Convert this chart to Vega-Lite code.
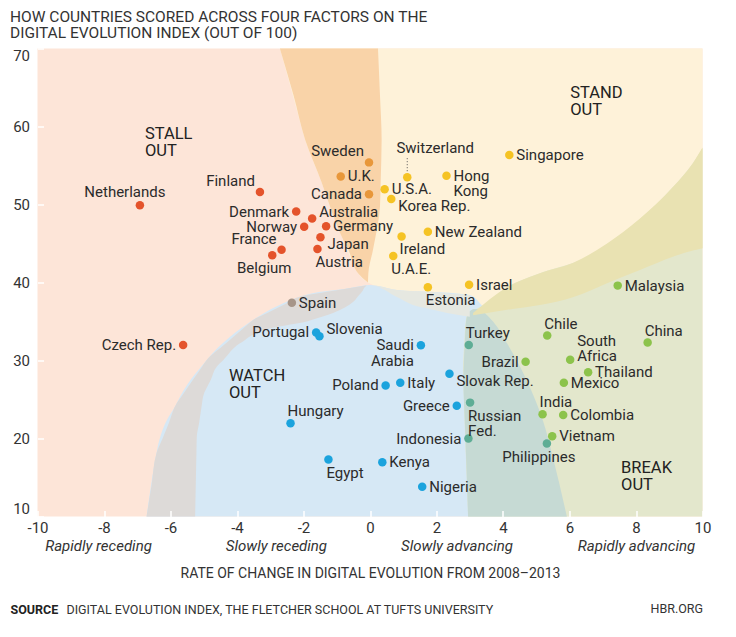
{
  "$schema": "https://vega.github.io/schema/vega-lite/v6.json",
  "width": 665,
  "height": 468,
  "autosize": {"type": "none"},
  "padding": {"left": 37.5, "top": 48.5, "right": 33.5, "bottom": 120.5},
  "background": "white",
  "title": {
    "text": ["HOW COUNTRIES SCORED ACROSS FOUR FACTORS ON THE", "DIGITAL EVOLUTION INDEX (OUT OF 100)"],
    "anchor": "start",
    "frame": "bounds",
    "font": "Roboto",
    "fontSize": 15.5,
    "fontWeight": "normal",
    "color": "#333333",
    "lineHeight": 16,
    "offset": 6
  },
  "config": {
    "font": "Roboto",
    "view": {"stroke": null, "fill": "#FDE5D8"},
    "axis": {"grid": false, "domain": false, "labelFont": "Roboto", "titleFont": "Roboto"}
  },
  "resolve": {"scale": {"x": "shared", "y": "shared"}, "axis": {"x": "independent"}},
  "datasets": {
    "regions": [
      {"r": "cream", "a": -2.71, "lo": 70, "hi": 70},
      {"r": "cream", "a": -2.3, "lo": 63.7, "hi": 70},
      {"r": "cream", "a": -1.95, "lo": 58.3, "hi": 70},
      {"r": "cream", "a": -1.45, "lo": 52.8, "hi": 70},
      {"r": "cream", "a": -1.2, "lo": 49.7, "hi": 70},
      {"r": "cream", "a": -0.81, "lo": 45.5, "hi": 70},
      {"r": "cream", "a": -0.36, "lo": 41.2, "hi": 70},
      {"r": "cream", "a": -0.06, "lo": 40.0, "hi": 70},
      {"r": "cream", "a": 0.09, "lo": 39.67, "hi": 70},
      {"r": "cream", "a": 1.29, "lo": 37.1, "hi": 70},
      {"r": "cream", "a": 2.32, "lo": 36.1, "hi": 70},
      {"r": "cream", "a": 3.0, "lo": 35.6, "hi": 70},
      {"r": "cream", "a": 4.12, "lo": 36.5, "hi": 70},
      {"r": "cream", "a": 5.11, "lo": 37.1, "hi": 70},
      {"r": "cream", "a": 6.1, "lo": 38.1, "hi": 70},
      {"r": "cream", "a": 7.13, "lo": 39.9, "hi": 70},
      {"r": "cream", "a": 8.12, "lo": 41.6, "hi": 70},
      {"r": "cream", "a": 9.11, "lo": 43.3, "hi": 70},
      {"r": "cream", "a": 10, "lo": 44.4, "hi": 70},

      {"r": "blue", "a": -6.72, "lo": 10, "hi": 10},
      {"r": "blue", "a": -6.42, "lo": 10, "hi": 18.14},
      {"r": "blue", "a": -5.81, "lo": 10, "hi": 24.55},
      {"r": "blue", "a": -4.91, "lo": 10, "hi": 30.06},
      {"r": "blue", "a": -3.52, "lo": 10, "hi": 35.19},
      {"r": "blue", "a": -2.11, "lo": 10, "hi": 38.18},
      {"r": "blue", "a": -0.6, "lo": 10, "hi": 39.29},
      {"r": "blue", "a": 0, "lo": 10, "hi": 39.68},
      {"r": "blue", "a": 0.81, "lo": 10, "hi": 39.04},
      {"r": "blue", "a": 1.8, "lo": 10, "hi": 38.8},
      {"r": "blue", "a": 3.0, "lo": 10, "hi": 38.4},
      {"r": "blue", "a": 3.4, "lo": 10, "hi": 36.9},
      {"r": "blue", "a": 4.12, "lo": 10, "hi": 32.2},
      {"r": "blue", "a": 4.72, "lo": 10, "hi": 27.4},
      {"r": "blue", "a": 5.2, "lo": 10, "hi": 22.3},
      {"r": "blue", "a": 5.5, "lo": 10, "hi": 17.6},
      {"r": "blue", "a": 5.92, "lo": 10, "hi": 10},

      {"r": "green", "a": 10, "lo": 2.95, "hi": 10},
      {"r": "green", "a": 15, "lo": 2.91, "hi": 10},
      {"r": "green", "a": 20.2, "lo": 2.86, "hi": 10},
      {"r": "green", "a": 24.5, "lo": 2.83, "hi": 10},
      {"r": "green", "a": 28.8, "lo": 2.8, "hi": 10},
      {"r": "green", "a": 32.5, "lo": 2.84, "hi": 10},
      {"r": "green", "a": 35, "lo": 2.88, "hi": 10},
      {"r": "green", "a": 36.1, "lo": 2.95, "hi": 10},
      {"r": "green", "a": 37, "lo": 3.38, "hi": 10},
      {"r": "green", "a": 38, "lo": 3.69, "hi": 10},
      {"r": "green", "a": 39.4, "lo": 4.12, "hi": 10},
      {"r": "green", "a": 41.2, "lo": 5.11, "hi": 10},
      {"r": "green", "a": 42.5, "lo": 6.1, "hi": 10},
      {"r": "green", "a": 45.45, "lo": 7.31, "hi": 10},
      {"r": "green", "a": 48.9, "lo": 8.33, "hi": 10},
      {"r": "green", "a": 52.24, "lo": 9.11, "hi": 10},
      {"r": "green", "a": 55.3, "lo": 9.71, "hi": 10},
      {"r": "green", "a": 57.2, "lo": 10, "hi": 10},

      {"r": "orange", "a": 40.0, "lo": -0.06, "hi": -0.06},
      {"r": "orange", "a": 41.2, "lo": -0.36, "hi": -0.05},
      {"r": "orange", "a": 44.2, "lo": -0.65, "hi": 0.09},
      {"r": "orange", "a": 45.5, "lo": -0.81, "hi": 0.15},
      {"r": "orange", "a": 49.7, "lo": -1.2, "hi": 0.3},
      {"r": "orange", "a": 52.8, "lo": -1.45, "hi": 0.32},
      {"r": "orange", "a": 58.3, "lo": -1.95, "hi": 0.35},
      {"r": "orange", "a": 64, "lo": -2.3, "hi": 0.3},
      {"r": "orange", "a": 70, "lo": -2.71, "hi": 0.24},

      {"r": "gray", "a": 10, "lo": -6.72, "hi": -5.26},
      {"r": "gray", "a": 14, "lo": -6.57, "hi": -5.24},
      {"r": "gray", "a": 18.14, "lo": -6.42, "hi": -5.22},
      {"r": "gray", "a": 20.2, "lo": -6.22, "hi": -5.21},
      {"r": "gray", "a": 22, "lo": -6.05, "hi": -5.14},
      {"r": "gray", "a": 24.55, "lo": -5.81, "hi": -5.05},
      {"r": "gray", "a": 25.4, "lo": -5.67, "hi": -5.02},
      {"r": "gray", "a": 27.5, "lo": -5.33, "hi": -4.79},
      {"r": "gray", "a": 29.2, "lo": -5.05, "hi": -4.61},
      {"r": "gray", "a": 30.06, "lo": -4.91, "hi": -4.41},
      {"r": "gray", "a": 32.2, "lo": -4.33, "hi": -3.91},
      {"r": "gray", "a": 34.2, "lo": -3.79, "hi": -2.92},
      {"r": "gray", "a": 35.0, "lo": -3.57, "hi": -1.9},
      {"r": "gray", "a": 35.19, "lo": -3.52, "hi": -1.76},
      {"r": "gray", "a": 36.1, "lo": -3.09, "hi": -1.11},
      {"r": "gray", "a": 37.5, "lo": -2.43, "hi": -0.51},
      {"r": "gray", "a": 38.18, "lo": -2.11, "hi": -0.37},
      {"r": "gray", "a": 39.0, "lo": -1.0, "hi": -0.21},
      {"r": "gray", "a": 39.29, "lo": -0.6, "hi": -0.18},
      {"r": "gray", "a": 39.6, "lo": -0.12, "hi": -0.1},

      {"r": "teal", "a": 10, "lo": 2.95, "hi": 5.92},
      {"r": "teal", "a": 17.6, "lo": 2.89, "hi": 5.5},
      {"r": "teal", "a": 22.3, "lo": 2.85, "hi": 5.2},
      {"r": "teal", "a": 27.4, "lo": 2.81, "hi": 4.72},
      {"r": "teal", "a": 32.2, "lo": 2.85, "hi": 4.12},
      {"r": "teal", "a": 35, "lo": 2.89, "hi": 3.7},
      {"r": "teal", "a": 36.1, "lo": 2.95, "hi": 3.45},
      {"r": "teal", "a": 36.6, "lo": 3.1, "hi": 3.3},

      {"r": "olive", "a": 3.1, "lo": 35.8, "hi": 36.1},
      {"r": "olive", "a": 4.12, "lo": 36.5, "hi": 39.4},
      {"r": "olive", "a": 5.11, "lo": 37.1, "hi": 41.2},
      {"r": "olive", "a": 6.1, "lo": 38.1, "hi": 42.5},
      {"r": "olive", "a": 7.13, "lo": 39.9, "hi": 45.0},
      {"r": "olive", "a": 8.12, "lo": 41.6, "hi": 48.2},
      {"r": "olive", "a": 9.11, "lo": 43.3, "hi": 52.24},
      {"r": "olive", "a": 9.71, "lo": 44.1, "hi": 55.3},
      {"r": "olive", "a": 10, "lo": 44.4, "hi": 57.3},

      {"r": "sw", "a": 0.0, "lo": 39.68, "hi": 39.68},
      {"r": "sw", "a": 0.09, "lo": 39.65, "hi": 39.65},
      {"r": "sw", "a": 0.81, "lo": 38.13, "hi": 39.04},
      {"r": "sw", "a": 1.29, "lo": 37.1, "hi": 38.9},
      {"r": "sw", "a": 1.8, "lo": 36.6, "hi": 38.8},
      {"r": "sw", "a": 2.32, "lo": 36.1, "hi": 38.6},
      {"r": "sw", "a": 3.0, "lo": 35.6, "hi": 38.4}
    ],
    "zones": [
      {"label": "STALL\nOUT", "x": -6.77, "y": 57.95},
      {"label": "STAND\nOUT", "x": 6.02, "y": 63.27},
      {"label": "WATCH\nOUT", "x": -4.24, "y": 27.0},
      {"label": "BREAK\nOUT", "x": 7.55, "y": 15.13}
    ],
    "points": [
      {"name": "Netherlands", "x": -6.92, "y": 49.9, "g": "Stall out", "side": "a"},
      {"name": "Finland", "x": -3.31, "y": 51.6, "g": "Stall out", "side": "al"},
      {"name": "Denmark", "x": -2.22, "y": 49.1, "g": "Stall out", "side": "l"},
      {"name": "Australia", "x": -1.74, "y": 48.2, "g": "Stall out", "side": "ru"},
      {"name": "Norway", "x": -1.98, "y": 47.15, "g": "Stall out", "side": "l"},
      {"name": "Germany", "x": -1.32, "y": 47.2, "g": "Stall out", "side": "r"},
      {"name": "Japan", "x": -1.49, "y": 45.8, "g": "Stall out", "side": "rd"},
      {"name": "Austria", "x": -1.58, "y": 44.3, "g": "Stall out", "side": "br"},
      {"name": "France", "x": -2.66, "y": 44.2, "g": "Stall out", "side": "al"},
      {"name": "Belgium", "x": -2.94, "y": 43.5, "g": "Stall out", "side": "b"},
      {"name": "Czech Rep.", "x": -5.62, "y": 32.0, "g": "Stall out", "side": "l"},
      {"name": "Sweden", "x": -0.03, "y": 55.4, "g": "Stall/Stand", "side": "al"},
      {"name": "U.K.", "x": -0.88, "y": 53.6, "g": "Stall/Stand", "side": "r"},
      {"name": "Canada", "x": -0.03, "y": 51.3, "g": "Stall/Stand", "side": "l"},
      {"name": "Switzerland", "x": 1.12, "y": 53.5, "g": "Stand out", "side": "sw"},
      {"name": "U.S.A.", "x": 0.44, "y": 51.95, "g": "Stand out", "side": "r"},
      {"name": "Korea Rep.", "x": 0.64, "y": 50.7, "g": "Stand out", "side": "rd"},
      {"name": "Hong\nKong", "x": 2.3, "y": 53.7, "g": "Stand out", "side": "r"},
      {"name": "Singapore", "x": 4.19, "y": 56.35, "g": "Stand out", "side": "r"},
      {"name": "New Zealand", "x": 1.74, "y": 46.5, "g": "Stand out", "side": "r"},
      {"name": "Ireland", "x": 0.95, "y": 45.9, "g": "Stand out", "side": "br"},
      {"name": "U.A.E.", "x": 0.7, "y": 43.4, "g": "Stand out", "side": "br"},
      {"name": "Estonia", "x": 1.74, "y": 39.4, "g": "Stand out", "side": "br"},
      {"name": "Israel", "x": 2.98, "y": 39.7, "g": "Stand out", "side": "r"},
      {"name": "Spain", "x": -2.35, "y": 37.4, "g": "Stall/Watch", "side": "r"},
      {"name": "Portugal", "x": -1.62, "y": 33.6, "g": "Watch out", "side": "l"},
      {"name": "Slovenia", "x": -1.52, "y": 33.1, "g": "Watch out", "side": "ru"},
      {"name": "Saudi\nArabia", "x": 1.53, "y": 31.95, "g": "Watch out", "side": "l"},
      {"name": "Poland", "x": 0.47, "y": 26.8, "g": "Watch out", "side": "l"},
      {"name": "Italy", "x": 0.91, "y": 27.15, "g": "Watch out", "side": "r"},
      {"name": "Slovak Rep.", "x": 2.39, "y": 28.3, "g": "Watch out", "side": "rd"},
      {"name": "Greece", "x": 2.61, "y": 24.2, "g": "Watch out", "side": "l"},
      {"name": "Hungary", "x": -2.39, "y": 21.95, "g": "Watch out", "side": "ar"},
      {"name": "Egypt", "x": -1.25, "y": 17.3, "g": "Watch out", "side": "br"},
      {"name": "Kenya", "x": 0.37, "y": 16.95, "g": "Watch out", "side": "r"},
      {"name": "Nigeria", "x": 1.57, "y": 13.8, "g": "Watch out", "side": "r"},
      {"name": "Turkey", "x": 2.97, "y": 32.0, "g": "Watch/Break", "side": "ar"},
      {"name": "Russian\nFed.", "x": 3.01, "y": 24.6, "g": "Watch/Break", "side": "br"},
      {"name": "Indonesia", "x": 2.96, "y": 20.0, "g": "Watch/Break", "side": "l"},
      {"name": "Philippines", "x": 5.32, "y": 19.35, "g": "Watch/Break", "side": "b"},
      {"name": "Brazil", "x": 4.68, "y": 29.85, "g": "Break out", "side": "l"},
      {"name": "Chile", "x": 5.33, "y": 33.2, "g": "Break out", "side": "ar"},
      {"name": "South\nAfrica", "x": 6.02, "y": 30.1, "g": "Break out", "side": "ruu"},
      {"name": "Thailand", "x": 6.56, "y": 28.5, "g": "Break out", "side": "r"},
      {"name": "Mexico", "x": 5.83, "y": 27.15, "g": "Break out", "side": "r"},
      {"name": "India", "x": 5.19, "y": 23.1, "g": "Break out", "side": "ar"},
      {"name": "Colombia", "x": 5.81, "y": 23.0, "g": "Break out", "side": "r"},
      {"name": "Vietnam", "x": 5.48, "y": 20.3, "g": "Break out", "side": "r"},
      {"name": "China", "x": 8.35, "y": 32.3, "g": "Break out", "side": "ar"},
      {"name": "Malaysia", "x": 7.45, "y": 39.6, "g": "Break out", "side": "r"}
    ]
  },
  "layer": [
    {
      "data": {"name": "regions"},
      "transform": [{"filter": "datum.r === 'cream'"}],
      "mark": {"type": "area", "orient": "vertical", "color": "#FEF2D9", "interpolate": "monotone"},
      "encoding": {
        "x": {"field": "a", "type": "quantitative", "scale": {"domain": [-10, 10], "nice": false},
          "axis": {"orient": "bottom", "values": [-8.18, -2.83, 2.6, 8.0], "labelExpr": "datum.value < -5 ? 'Rapidly receding' : datum.value < 0 ? 'Slowly receding' : datum.value < 5 ? 'Slowly advancing' : 'Rapidly advancing'", "labelFontStyle": "italic", "labelFontSize": 15, "labelColor": "#333333", "labelPadding": 22, "ticks": false, "domain": false, "grid": false, "labelOverlap": false, "labelFlush": false, "labelBound": false, "title": "RATE OF CHANGE IN DIGITAL EVOLUTION FROM 2008–2013", "titleFontWeight": "normal", "titleFontSize": 14, "titleColor": "#333333", "titleY": 57, "titleBaseline": "middle"}},
        "y": {"field": "lo", "type": "quantitative", "scale": {"domain": [10, 70], "nice": false}, "title": null},
        "y2": {"field": "hi"}
      }
    },
    {
      "data": {"name": "regions"},
      "transform": [{"filter": "datum.r === 'blue'"}],
      "mark": {"type": "area", "orient": "vertical", "color": "#D6E8F5", "interpolate": "monotone"},
      "encoding": {
        "x": {"field": "a", "type": "quantitative", "scale": {"domain": [-10, 10], "nice": false},
          "axis": {"orient": "bottom", "values": [10], "labelExpr": "'HBR.ORG'", "labelAlign": "right", "labelFontSize": 12.5, "labelColor": "#333333", "labelPadding": 86, "ticks": false, "domain": false, "grid": false, "labelFlush": false, "labelBound": false, "labelOverlap": false, "title": "SOURCE", "titleFontWeight": "bold", "titleFontSize": 12.5, "titleColor": "#222222", "titleAnchor": "start", "titleAlign": "left", "titleX": -27.5, "titleY": 93, "titleBaseline": "middle"}},
        "y": {"field": "lo", "type": "quantitative", "scale": {"domain": [10, 70], "nice": false}, "title": null},
        "y2": {"field": "hi"}
      }
    },
    {
      "data": {"name": "regions"},
      "transform": [{"filter": "datum.r === 'green'"}],
      "mark": {"type": "area", "orient": "horizontal", "color": "#E3E7CC", "interpolate": "monotone"},
      "encoding": {
        "y": {"field": "a", "type": "quantitative", "scale": {"domain": [10, 70], "nice": false}, "title": null},
        "x": {"field": "lo", "type": "quantitative", "scale": {"domain": [-10, 10], "nice": false},
          "axis": {"orient": "bottom", "values": [0], "labels": false, "ticks": false, "domain": false, "grid": false, "title": "DIGITAL EVOLUTION INDEX, THE FLETCHER SCHOOL AT TUFTS UNIVERSITY", "titleFontWeight": "normal", "titleFontSize": 12.5, "titleColor": "#333333", "titleAnchor": "start", "titleAlign": "left", "titleX": 28.5, "titleY": 93, "titleBaseline": "middle"}},
        "x2": {"field": "hi"}
      }
    },
    {
      "data": {"name": "regions"},
      "transform": [{"filter": "datum.r === 'orange'"}],
      "mark": {"type": "area", "orient": "horizontal", "color": "#F9D3A8", "interpolate": "monotone"},
      "encoding": {
        "y": {"field": "a", "type": "quantitative", "scale": {"domain": [10, 70], "nice": false}, "title": null},
        "x": {"field": "lo", "type": "quantitative", "scale": {"domain": [-10, 10], "nice": false}, "axis": null},
        "x2": {"field": "hi"}
      }
    },
    {
      "data": {"name": "regions"},
      "transform": [{"filter": "datum.r === 'gray'"}],
      "mark": {"type": "area", "orient": "horizontal", "color": "#DDDAD8", "interpolate": "monotone"},
      "encoding": {
        "y": {"field": "a", "type": "quantitative", "scale": {"domain": [10, 70], "nice": false}, "title": null},
        "x": {"field": "lo", "type": "quantitative", "scale": {"domain": [-10, 10], "nice": false}, "axis": null},
        "x2": {"field": "hi"}
      }
    },
    {
      "data": {"name": "regions"},
      "transform": [{"filter": "datum.r === 'teal'"}],
      "mark": {"type": "area", "orient": "horizontal", "color": "#C6DAD4", "interpolate": "monotone"},
      "encoding": {
        "y": {"field": "a", "type": "quantitative", "scale": {"domain": [10, 70], "nice": false}, "title": null},
        "x": {"field": "lo", "type": "quantitative", "scale": {"domain": [-10, 10], "nice": false}, "axis": null},
        "x2": {"field": "hi"}
      }
    },
    {
      "data": {"name": "regions"},
      "transform": [{"filter": "datum.r === 'olive'"}],
      "mark": {"type": "area", "orient": "vertical", "color": "#E9E2B2", "interpolate": "monotone"},
      "encoding": {
        "x": {"field": "a", "type": "quantitative", "scale": {"domain": [-10, 10], "nice": false}, "axis": null},
        "y": {"field": "lo", "type": "quantitative", "scale": {"domain": [10, 70], "nice": false}, "title": null},
        "y2": {"field": "hi"}
      }
    },
    {
      "data": {"name": "regions"},
      "transform": [{"filter": "datum.r === 'sw'"}],
      "mark": {"type": "area", "orient": "vertical", "color": "#E6E8E1", "interpolate": "monotone"},
      "encoding": {
        "x": {"field": "a", "type": "quantitative", "scale": {"domain": [-10, 10], "nice": false}, "axis": null},
        "y": {"field": "lo", "type": "quantitative", "scale": {"domain": [10, 70], "nice": false}, "title": null},
        "y2": {"field": "hi"}
      }
    },
    {
      "data": {"name": "zones"},
      "mark": {"type": "text", "align": "left", "baseline": "middle", "dy": -8, "fontSize": 16.5, "lineHeight": 17, "lineBreak": "\n", "color": "#222222"},
      "encoding": {
        "x": {"field": "x", "type": "quantitative", "axis": null},
        "y": {"field": "y", "type": "quantitative", "title": null},
        "text": {"field": "label"}
      }
    },
    {
      "data": {"name": "points"},
      "transform": [{"filter": "datum.side === 'sw'"}],
      "mark": {"type": "rule", "color": "#555555", "strokeDash": [1, 2], "strokeWidth": 1, "yOffset": -6, "y2Offset": -19},
      "encoding": {
        "x": {"field": "x", "type": "quantitative", "axis": null},
        "y": {"field": "y", "type": "quantitative", "title": null},
        "y2": {"field": "y"}
      }
    },
    {
      "data": {"name": "points"},
      "mark": {"type": "circle", "size": 72, "opacity": 1},
      "encoding": {
        "x": {"field": "x", "type": "quantitative", "scale": {"domain": [-10, 10], "nice": false},
          "axis": {"orient": "bottom", "values": [-10, -8, -6, -4, -2, 0, 2, 4, 6, 8, 10], "labelExpr": "toString(datum.value)", "labelFontSize": 15, "labelColor": "#333333", "labelPadding": 10, "ticks": true, "tickColor": "white", "tickSize": -6, "tickWidth": 1.5, "domain": false, "grid": false, "zindex": 1, "labelFlush": false, "labelOverlap": false, "title": null}},
        "y": {"field": "y", "type": "quantitative", "scale": {"domain": [10, 70], "nice": false},
          "axis": {"orient": "left", "values": [10, 20, 30, 40, 50, 60, 70], "labelFlush": true, "labelFontSize": 15, "labelColor": "#333333", "labelPadding": 14, "ticks": true, "tickColor": "white", "tickSize": -6, "tickWidth": 1.5, "domain": false, "grid": false, "zindex": 1, "title": null}},
        "color": {"field": "g", "type": "nominal", "legend": null,
          "scale": {"domain": ["Stall out", "Stall/Stand", "Stand out", "Stall/Watch", "Watch out", "Watch/Break", "Break out"],
                    "range": ["#E4532B", "#E8973A", "#F5C324", "#A69589", "#1BA3DD", "#5EAD95", "#8CC34B"]}}
      }
    },
    {
      "data": {"name": "points"},
      "transform": [{"filter": "datum.side === 'r'"}],
      "mark": {"type": "text", "align": "left", "baseline": "middle", "dx": 7, "fontSize": 15, "lineHeight": 15, "lineBreak": "\n", "color": "#2B2B2B"},
      "encoding": {"x": {"field": "x", "type": "quantitative", "axis": null}, "y": {"field": "y", "type": "quantitative", "title": null}, "text": {"field": "name"}}
    },
    {
      "data": {"name": "points"},
      "transform": [{"filter": "datum.side === 'ru'"}],
      "mark": {"type": "text", "align": "left", "baseline": "middle", "dx": 7, "dy": -7, "fontSize": 15, "lineHeight": 15, "lineBreak": "\n", "color": "#2B2B2B"},
      "encoding": {"x": {"field": "x", "type": "quantitative", "axis": null}, "y": {"field": "y", "type": "quantitative", "title": null}, "text": {"field": "name"}}
    },
    {
      "data": {"name": "points"},
      "transform": [{"filter": "datum.side === 'ruu'"}],
      "mark": {"type": "text", "align": "left", "baseline": "middle", "dx": 7, "dy": -19, "fontSize": 15, "lineHeight": 15, "lineBreak": "\n", "color": "#2B2B2B"},
      "encoding": {"x": {"field": "x", "type": "quantitative", "axis": null}, "y": {"field": "y", "type": "quantitative", "title": null}, "text": {"field": "name"}}
    },
    {
      "data": {"name": "points"},
      "transform": [{"filter": "datum.side === 'rd'"}],
      "mark": {"type": "text", "align": "left", "baseline": "middle", "dx": 7, "dy": 7, "fontSize": 15, "lineHeight": 15, "lineBreak": "\n", "color": "#2B2B2B"},
      "encoding": {"x": {"field": "x", "type": "quantitative", "axis": null}, "y": {"field": "y", "type": "quantitative", "title": null}, "text": {"field": "name"}}
    },
    {
      "data": {"name": "points"},
      "transform": [{"filter": "datum.side === 'l'"}],
      "mark": {"type": "text", "align": "right", "baseline": "middle", "dx": -7, "fontSize": 15, "lineHeight": 16, "lineBreak": "\n", "color": "#2B2B2B"},
      "encoding": {"x": {"field": "x", "type": "quantitative", "axis": null}, "y": {"field": "y", "type": "quantitative", "title": null}, "text": {"field": "name"}}
    },
    {
      "data": {"name": "points"},
      "transform": [{"filter": "datum.side === 'al'"}],
      "mark": {"type": "text", "align": "right", "baseline": "alphabetic", "dx": -5, "dy": -6, "fontSize": 15, "lineHeight": 15, "lineBreak": "\n", "color": "#2B2B2B"},
      "encoding": {"x": {"field": "x", "type": "quantitative", "axis": null}, "y": {"field": "y", "type": "quantitative", "title": null}, "text": {"field": "name"}}
    },
    {
      "data": {"name": "points"},
      "transform": [{"filter": "datum.side === 'ar'"}],
      "mark": {"type": "text", "align": "left", "baseline": "alphabetic", "dx": -3, "dy": -7, "fontSize": 15, "lineHeight": 15, "lineBreak": "\n", "color": "#2B2B2B"},
      "encoding": {"x": {"field": "x", "type": "quantitative", "axis": null}, "y": {"field": "y", "type": "quantitative", "title": null}, "text": {"field": "name"}}
    },
    {
      "data": {"name": "points"},
      "transform": [{"filter": "datum.side === 'a'"}],
      "mark": {"type": "text", "align": "center", "baseline": "alphabetic", "dx": -15, "dy": -8, "fontSize": 15, "lineHeight": 15, "lineBreak": "\n", "color": "#2B2B2B"},
      "encoding": {"x": {"field": "x", "type": "quantitative", "axis": null}, "y": {"field": "y", "type": "quantitative", "title": null}, "text": {"field": "name"}}
    },
    {
      "data": {"name": "points"},
      "transform": [{"filter": "datum.side === 'br'"}],
      "mark": {"type": "text", "align": "left", "baseline": "top", "dx": -2, "dy": 6, "fontSize": 15, "lineHeight": 15, "lineBreak": "\n", "color": "#2B2B2B"},
      "encoding": {"x": {"field": "x", "type": "quantitative", "axis": null}, "y": {"field": "y", "type": "quantitative", "title": null}, "text": {"field": "name"}}
    },
    {
      "data": {"name": "points"},
      "transform": [{"filter": "datum.side === 'b'"}],
      "mark": {"type": "text", "align": "center", "baseline": "top", "dx": -8, "dy": 6, "fontSize": 15, "lineHeight": 15, "lineBreak": "\n", "color": "#2B2B2B"},
      "encoding": {"x": {"field": "x", "type": "quantitative", "axis": null}, "y": {"field": "y", "type": "quantitative", "title": null}, "text": {"field": "name"}}
    },
    {
      "data": {"name": "points"},
      "transform": [{"filter": "datum.side === 'sw'"}],
      "mark": {"type": "text", "align": "center", "baseline": "alphabetic", "dx": 28, "dy": -24, "fontSize": 15, "lineHeight": 15, "lineBreak": "\n", "color": "#2B2B2B"},
      "encoding": {"x": {"field": "x", "type": "quantitative", "axis": null}, "y": {"field": "y", "type": "quantitative", "title": null}, "text": {"field": "name"}}
    }
  ]
}
